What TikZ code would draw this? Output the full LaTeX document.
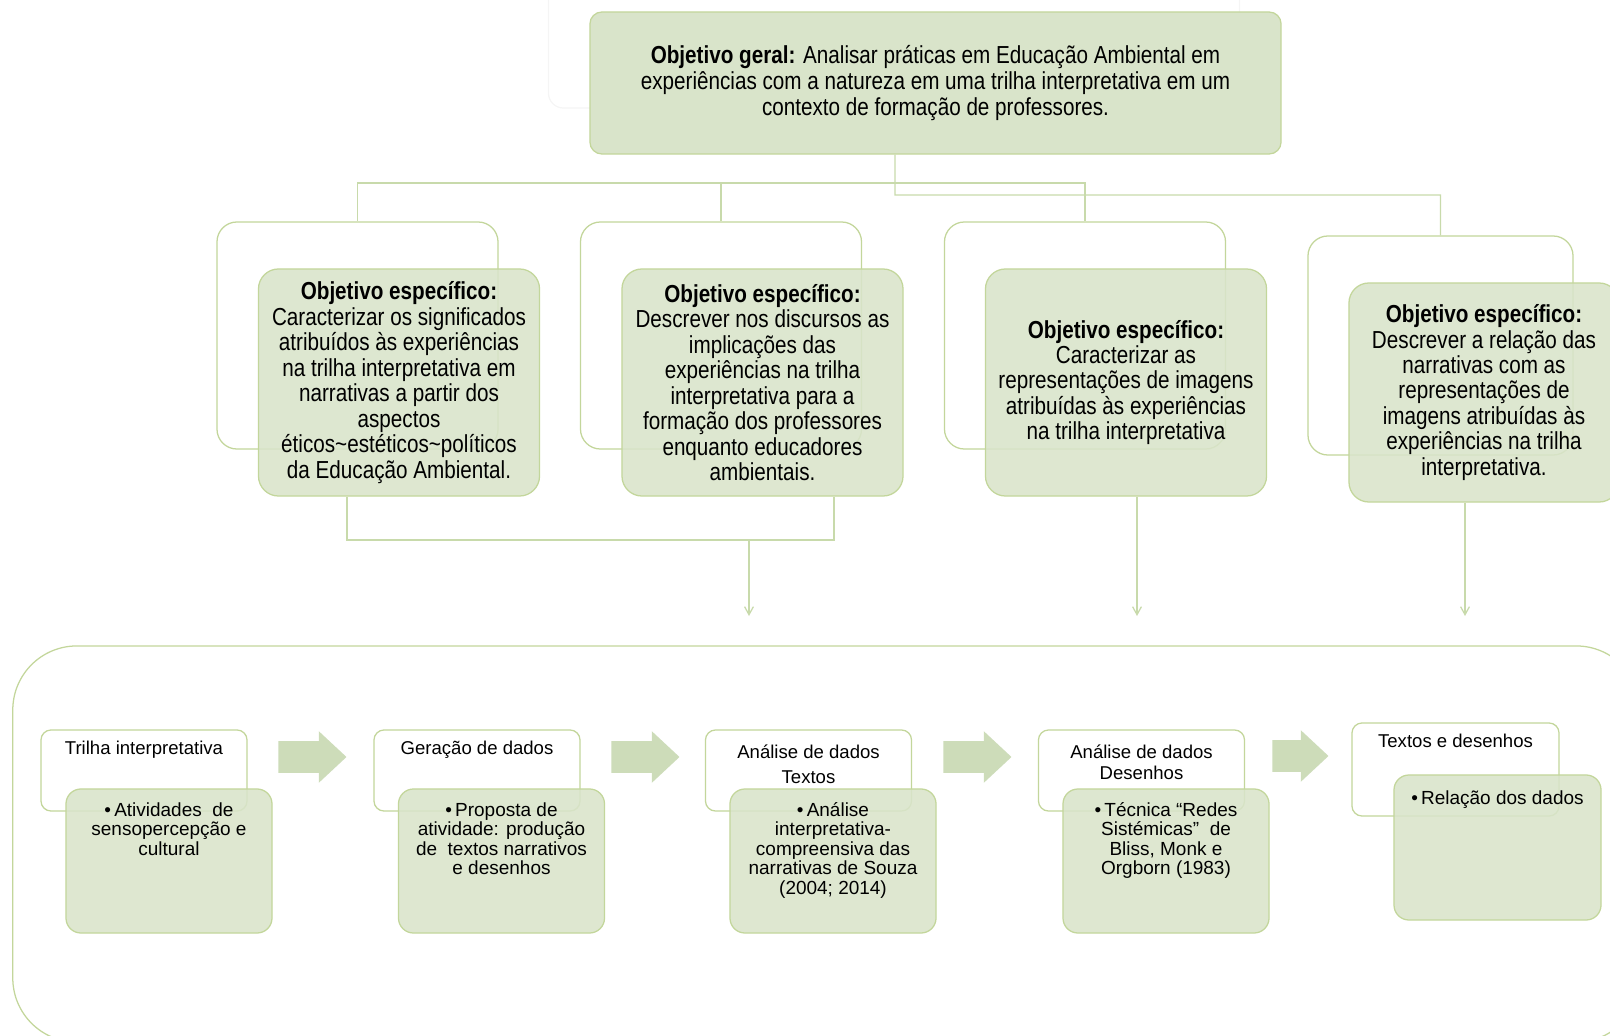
\documentclass[tikz,border=0pt]{standalone}
\usepackage{fontspec}
\setmainfont{Liberation Sans}
\newfontfamily\estreita[FakeStretch=0.84]{Liberation Sans}
\usetikzlibrary{arrows.meta,shapes.arrows}
\definecolor{verdeborda}{HTML}{C3D69B}
\definecolor{verdefundo}{HTML}{D9E4CA}
\definecolor{verdeseta}{HTML}{CDDCB9}
\definecolor{verdelinha}{HTML}{C8DAAB}

\tikzset{
  caixageral/.style={draw=verdeborda, line width=0.9pt, fill=verdefundo, rounded corners=0.3cm,
    minimum width=17.275cm, minimum height=3.55cm, align=center,
    font=\estreita\fontsize{17.5}{18.3}\selectfont},
  fundo/.style={draw=verdeborda, line width=0.9pt, fill=white, rounded corners=0.5cm,
    minimum width=7.025cm, minimum height=5.675cm},
  especifico/.style={draw=verdeborda, line width=0.9pt, fill=verdefundo, fill opacity=0.88,
    text opacity=1, rounded corners=0.5cm, minimum width=7.025cm, minimum height=5.675cm,
    align=center, inner sep=0pt, font=\estreita\fontsize{17.5}{18.1}\selectfont},
  etapa/.style={draw=verdeborda, line width=0.9pt, fill=white, rounded corners=0.25cm,
    minimum width=5.15cm, minimum height=2.025cm},
  detalhe/.style={draw=verdeborda, line width=0.9pt, fill=verdefundo, fill opacity=0.88,
    rounded corners=0.375cm, minimum width=5.15cm, minimum height=3.6cm},
  titulo/.style={align=center, inner sep=0pt, font=\fontsize{13.2}{17.5}\selectfont},
  item/.style={align=center, inner sep=0pt, anchor=north, font=\fontsize{13.5}{13.9}\selectfont},
  seta/.style={single arrow, fill=verdeseta, draw=none, inner xsep=0pt, inner ysep=0.3875cm,
    minimum height=1.7cm, single arrow head extend=0.25cm, single arrow tip angle=86},
  liga/.style={draw=verdelinha, line width=0.9pt},
  ponta/.style={liga, -{Straight Barb[length=0.2cm,width=0.22cm]}}
}

\begin{document}
\begin{tikzpicture}[x=0.025cm, y=-0.025cm]
  \useasboundingbox (0,0) rectangle (1610,1036);

  % Objetivo geral
  \node[draw=black!4, line width=0.9pt, rounded corners=0.375cm, minimum width=17.275cm,
        minimum height=3.55cm] (fantasma) at (894,37) {};
  \node[caixageral] (geral) at (935.5,83) {\textbf{Objetivo geral:} Analisar práticas em Educação Ambiental em\\
    experiências com a natureza em uma trilha interpretativa em um\\
    contexto de formação de professores.};

  % Objetivos especificos
  \node[fundo] (fundo1) at (357.5,335.5) {};
  \node[fundo] (fundo2) at (721,335.5) {};
  \node[fundo] (fundo3) at (1085,335.5) {};
  \node[fundo, minimum width=6.625cm, minimum height=5.475cm] (fundo4) at (1440.5,345.5) {};

  \node[especifico] (esp1) at (399,382.5) {\textbf{Objetivo específico:}\\Caracterizar os significados\\
    atribuídos às experiências\\na trilha interpretativa em\\narrativas a partir dos\\aspectos\\
    éticos\textasciitilde estéticos\textasciitilde políticos\\da Educação Ambiental.};
  \node[especifico] (esp2) at (762.5,382.5) {\textbf{Objetivo específico:}\\Descrever nos discursos as\\
    implicações das\\experiências na trilha\\interpretativa para a\\formação dos professores\\
    enquanto educadores\\ambientais.};
  \node[especifico] (esp3) at (1126,382.5) {\textbf{Objetivo específico:}\\Caracterizar as\\
    representações de imagens\\atribuídas às experiências\\na trilha interpretativa};
  \node[especifico, minimum width=6.75cm, minimum height=5.475cm] (esp4) at (1484,392.5)
    {\textbf{Objetivo específico:}\\Descrever a relação das\\narrativas com as\\representações de\\
    imagens atribuídas às\\experiências na trilha\\interpretativa.};

  % Ligacoes de cima
  \coordinate (ramoA) at (895,183);
  \coordinate (ramoB) at (895,195);
  \draw[liga] ([xshift=-1.0125cm]geral.south) -- (ramoB) -| (fundo4.north);
  \draw[liga] (fundo1.north) |- (ramoA -| fundo3.north) -- (fundo3.north);
  \draw[liga] (fundo2.north) -- (fundo2.north |- ramoA);

  % Ligacoes de baixo
  \coordinate (juncao) at (749,540);
  \coordinate (alvoA) at (749,616);
  \coordinate (alvoB) at (1137,616);
  \coordinate (alvoC) at (1465,616);
  \coordinate (pe1) at ([xshift=-1.3cm]esp1.south);
  \coordinate (pe2) at ([xshift=1.7875cm]esp2.south);
  \draw[liga] (pe1) |- (pe2 |- juncao) -- (pe2);
  \draw[ponta] (juncao) -- (alvoA);
  \draw[ponta] (esp3.south -| alvoB) -- (alvoB);
  \draw[ponta] (esp4.south -| alvoC) -- (alvoC);

  % Moldura das etapas
  \node[draw=verdeborda, line width=0.9pt, rounded corners=1.6cm, minimum width=40.675cm,
        minimum height=9.9cm] (moldura) at (826.5,844) {};

  % Etapas
  \node[etapa] (etapa1) at (144,770.5) {};
  \node[etapa] (etapa2) at (477,770.5) {};
  \node[etapa] (etapa3) at (808.5,770.5) {};
  \node[etapa] (etapa4) at (1141.5,770.5) {};
  \node[etapa, minimum width=5.175cm, minimum height=2.325cm] (etapa5) at (1455.5,769.5) {};

  \node[titulo] (titulo1) at (144,750) {Trilha interpretativa};
  \node[titulo] (titulo2) at (477,750) {Geração de dados};
  \node[titulo] (titulo3) at (808.5,764) {Análise de dados\\Textos};
  \node[titulo] (titulo4) at (1141.5,762) {Análise de dados\\[-2.5pt]Desenhos};
  \node[titulo] (titulo5) at (1455.5,741) {Textos e desenhos};

  \node[detalhe] (detalhe1) at (169,861) {};
  \node[detalhe] (detalhe2) at (501.5,861) {};
  \node[detalhe] (detalhe3) at (833,861) {};
  \node[detalhe] (detalhe4) at (1166,861) {};
  \node[detalhe, minimum width=5.175cm, minimum height=3.625cm] (detalhe5) at (1497.5,847.5) {};

  \node[item] (item1) at (169,802) {•\,Atividades\ \ de\\sensopercepção e\\cultural};
  \node[item] (item2) at (501.5,802) {•\,Proposta de\\atividade: produção\\de\ \ textos narrativos\\e desenhos};
  \node[item] (item3) at (833,802) {•\,Análise\\interpretativa-\\compreensiva das\\narrativas de Souza\\(2004; 2014)};
  \node[item] (item4) at (1166,802) {•\,Técnica “Redes\\Sistémicas”\ \ de\\Bliss, Monk e\\Orgborn (1983)};
  \node[item] (item5) at (1497.5,790) {•\,Relação dos dados};

  % Setas entre etapas
  \foreach \i/\x in {1/304,2/637,3/969}
    \node[seta] (seta\i) at (\x,757) {};
  \node[seta, minimum height=1.4cm] (seta4) at (1292,756) {};
\end{tikzpicture}
\end{document}
